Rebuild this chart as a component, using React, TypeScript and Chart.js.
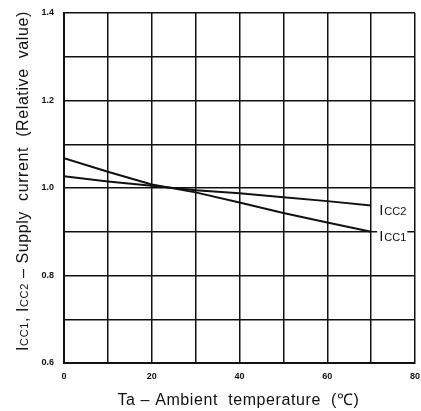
import React, { useEffect, useRef } from "react";
import { Chart, registerables } from "chart.js";

Chart.register(...registerables);

const temperatures = [0, 10, 20, 30, 40, 50, 60, 70];
const icc1 = [1.068, 1.037, 1.008, 0.99, 0.967, 0.943, 0.921, 0.9];
const icc2 = [1.027, 1.015, 1.005, 0.995, 0.988, 0.979, 0.97, 0.96];
const seriesLabels = ["Icc1", "Icc2"];
const xTickLabels = [0, 20, 40, 60, 80];
const yTickLabels = [0.6, 0.8, 1.0, 1.2, 1.4];
const xTitleRuns: [string, number][] = [["Ta \u2013 Ambient  temperature  (\u2103)", 16]];
const yTitleRuns: [string, number][] = [
  ["I", 16],
  ["CC1", 11],
  [", I", 16],
  ["CC2", 11],
  [" \u2013 Supply  current  (Relative  value)", 16],
];

const INK = "#111";
const FAMILY = "'Liberation Sans', Arial, sans-serif";

function runsWidth(ctx: CanvasRenderingContext2D, runs: [string, number][]) {
  let w = 0;
  for (const [t, s] of runs) {
    ctx.font = `${s}px ${FAMILY}`;
    w += ctx.measureText(t).width;
  }
  return w;
}

function drawRuns(ctx: CanvasRenderingContext2D, runs: [string, number][], x: number, y: number) {
  let cx = x;
  for (const [t, s] of runs) {
    ctx.font = `${s}px ${FAMILY}`;
    ctx.fillText(t, cx, y);
    cx += ctx.measureText(t).width;
  }
}

const titlesPlugin = {
  id: "titles",
  afterDraw(chart: any) {
    const { ctx, chartArea } = chart;
    ctx.save();
    ctx.fillStyle = INK;
    ctx.textBaseline = "alphabetic";
    ctx.textAlign = "left";
    (ctx as any).letterSpacing = "0.6px";
    const cxm = (chartArea.left + chartArea.right) / 2 - 1;
    const wx = runsWidth(ctx, xTitleRuns);
    drawRuns(ctx, xTitleRuns, cxm - wx / 2, 405);
    const wy = runsWidth(ctx, yTitleRuns);
    ctx.translate(28, 181);
    ctx.rotate(-Math.PI / 2);
    drawRuns(ctx, yTitleRuns, -wy / 2, 0);
    ctx.restore();
  },
};

const lineLabelPlugin = {
  id: "lineLabels",
  afterDatasetsDraw(chart: any) {
    const { ctx, scales } = chart;
    const xs = scales.x;
    const ys = scales.y;
    chart.data.datasets.forEach((ds: any) => {
      const n = ds.data.length;
      const last = ds.data[n - 1];
      const px = xs.getPixelForValue(last.x) + 8;
      const py = ys.getPixelForValue(last.y) + 4;
      const name: string = ds.label;
      const base = name.charAt(0);
      const rest = name.slice(1).toUpperCase();
      ctx.save();
      ctx.font = `15px ${FAMILY}`;
      const w1 = ctx.measureText(base).width;
      ctx.font = `11px ${FAMILY}`;
      const w2 = ctx.measureText(rest).width;
      ctx.fillStyle = "#fff";
      ctx.fillRect(px - 2, py - 7, w1 + w2 + 4, 14);
      ctx.fillStyle = INK;
      ctx.textBaseline = "alphabetic";
      ctx.font = `15px ${FAMILY}`;
      ctx.fillText(base, px, py + 5);
      ctx.font = `11px ${FAMILY}`;
      ctx.fillText(rest, px + w1 + 1, py + 5);
      ctx.restore();
    });
  },
};

export default function App() {
  const ref = useRef<HTMLCanvasElement | null>(null);
  useEffect(() => {
    if (!ref.current) return;
    const mk = (vals: number[]) => temperatures.map((t, i) => ({ x: t, y: vals[i] }));
    const chart = new Chart(ref.current, {
      type: "line",
      data: {
        datasets: [
          { label: seriesLabels[0], data: mk(icc1), borderColor: INK, borderWidth: 2, pointRadius: 0, tension: 0, fill: false },
          { label: seriesLabels[1], data: mk(icc2), borderColor: INK, borderWidth: 2, pointRadius: 0, tension: 0, fill: false },
        ],
      },
      options: {
        animation: false,
        responsive: false,
        maintainAspectRatio: false,
        layout: { padding: { left: 0, right: 6, top: 13, bottom: 0 } },
        plugins: { legend: { display: false }, tooltip: { enabled: false } },
        scales: {
          x: {
            type: "linear",
            min: 0,
            max: 80,
            ticks: {
              stepSize: 10,
              autoSkip: false,
              maxRotation: 0,
              padding: 0,
              color: INK,
              font: { family: FAMILY, size: 9, weight: "bold" },
              callback: (v: any) => (xTickLabels.includes(Number(v)) ? String(v) : ""),
            },
            grid: { color: INK, lineWidth: 1.5, drawTicks: true, tickLength: 8, tickColor: "rgba(0,0,0,0)" },
            border: { color: INK, width: 2 },
            title: { display: false },
            afterFit: (s: any) => { s.height = 48; },
          },
          y: {
            type: "linear",
            min: 0.6,
            max: 1.4,
            ticks: {
              stepSize: 0.1,
              autoSkip: false,
              padding: 0,
              color: INK,
              font: { family: FAMILY, size: 9, weight: "bold" },
              callback: (v: any) => {
                const n = Math.round(Number(v) * 10) / 10;
                return yTickLabels.some((t) => Math.abs(t - n) < 1e-6) ? n.toFixed(1) : "";
              },
            },
            grid: { color: INK, lineWidth: 1.5, drawTicks: true, tickLength: 10, tickColor: "rgba(0,0,0,0)" },
            border: { color: INK, width: 2 },
            title: { display: false },
            afterFit: (s: any) => { s.width = 64; },
          },
        },
      },
      plugins: [lineLabelPlugin, titlesPlugin],
    });
    return () => chart.destroy();
  }, []);
  return (
    <div style={{ position: "fixed", left: 0, top: 0, width: 421, height: 411, background: "#fff" }}>
      <canvas ref={ref} width={421} height={411} style={{ width: 421, height: 411, display: "block" }} />
    </div>
  );
}
